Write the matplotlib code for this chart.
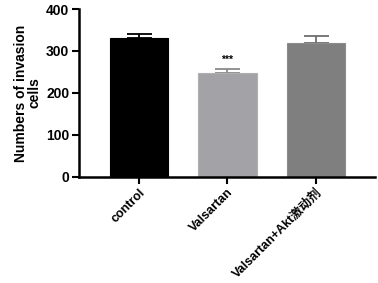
import matplotlib.pyplot as plt
import numpy as np

groups = ["control", "Valsartan", "Valsartan+Akt激动剂"]
means = [331, 248, 320]
errors = [9, 8, 16]
bar_colors = ["#000000", "#a3a3a7", "#7f7f7f"]
edge_colors = ["#000000", "#b0b0b0", "#8c8c8c"]
err_colors = ["#000000", "#8a8a8a", "#6e6e6e"]

plt.rcParams['font.family'] = ['Liberation Sans', 'Noto Sans CJK SC']

fig = plt.figure(figsize=(3.78, 2.83), dpi=100)
ax = fig.add_axes([0.209, 0.3756, 0.783, 0.5924])

x = np.arange(len(groups))
for i in range(len(groups)):
    ax.bar(x[i], means[i], width=0.66, color=bar_colors[i],
           edgecolor=edge_colors[i], linewidth=0.8, zorder=2)
    ax.errorbar(x[i], means[i], yerr=[[0], [errors[i]]], fmt='none',
                ecolor=err_colors[i], elinewidth=1.3, capsize=9, capthick=1.3,
                zorder=1)

# significance mark
ax.text(x[1], means[1] + errors[1] + 22, "***", ha='center', va='center',
        fontsize=7.5, fontweight='bold')

ax.set_xlim(-0.68, 2.67)
ax.set_ylim(0, 400)
ax.set_yticks([0, 100, 200, 300, 400])
ax.set_xticks(x)
ax.set_xticklabels(groups, rotation=45, ha='right', rotation_mode='anchor',
                   fontsize=9, fontweight='bold')
for t in ax.get_yticklabels():
    t.set_fontsize(10)
    t.set_fontweight('bold')
ax.set_ylabel("Numbers of invasion\ncells", fontsize=10, fontweight='bold',
              labelpad=3, linespacing=1.0)

ax.spines['top'].set_visible(False)
ax.spines['right'].set_visible(False)
ax.spines['left'].set_linewidth(1.8)
ax.spines['bottom'].set_linewidth(1.8)
ax.tick_params(axis='both', width=1.5, length=5, pad=2)

fig.savefig("out.png", dpi=100)
